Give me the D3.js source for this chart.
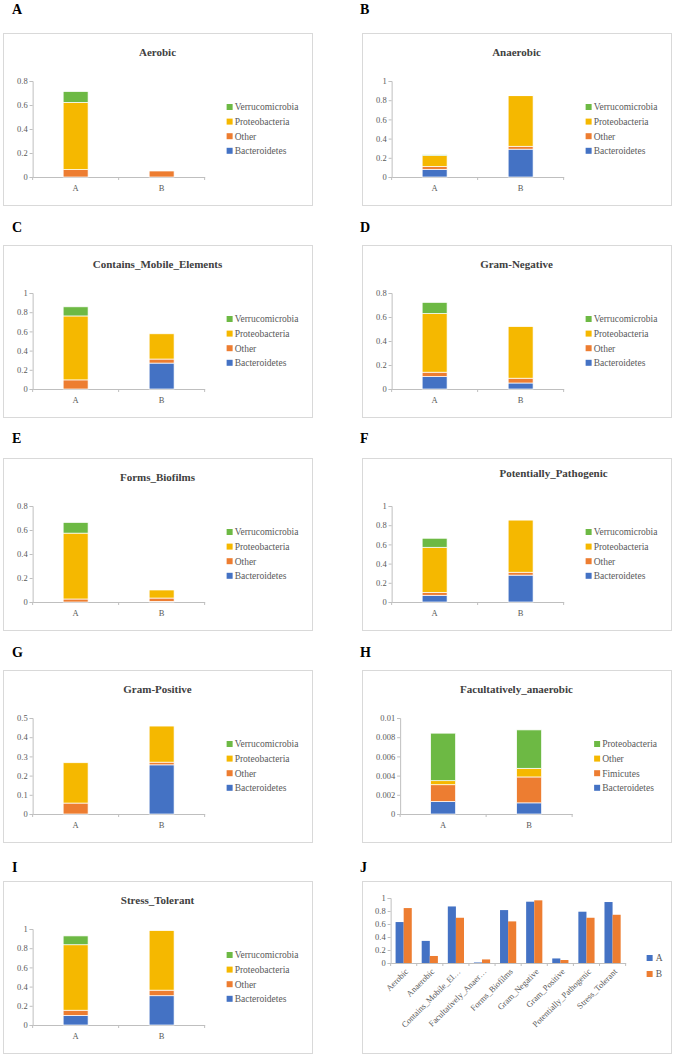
<!DOCTYPE html>
<html>
<head>
<meta charset="utf-8">
<script src="https://cdn.jsdelivr.net/npm/d3@7"></script>
<style>
  body { margin: 0; background: #fff; }
  text { font-family: "Liberation Serif", "Times New Roman", serif; }
</style>
</head>
<body>
<div id="fig"></div>
<script>
// ---- data ----
const groups = ["A", "B"];
const phyla = ["Bacteroidetes", "Other", "Proteobacteria", "Verrucomicrobia"];
const phylaFacultative = ["Bacteroidetes", "Fimicutes", "Other", "Proteobacteria"];
const phylumColors = ["#4472C4", "#ED7D31", "#F5B800", "#6DB944"];

// stacked values for each group, same order as the phyla list
const aerobicA = [0, 0.062, 0.56, 0.09];
const aerobicB = [0, 0.05, 0, 0];
const anaerobicA = [0.08, 0.03, 0.113, 0.008];
const anaerobicB = [0.29, 0.03, 0.527, 0.005];
const mobileA = [0, 0.095, 0.666, 0.095];
const mobileB = [0.27, 0.042, 0.263, 0];
const gramNegA = [0.104, 0.036, 0.489, 0.093];
const gramNegB = [0.05, 0.04, 0.43, 0];
const biofilmsA = [0, 0.025, 0.549, 0.089];
const biofilmsB = [0.005, 0.028, 0.067, 0];
const pathogenicA = [0.07, 0.03, 0.47, 0.094];
const pathogenicB = [0.28, 0.03, 0.543, 0];
const gramPosA = [0, 0.057, 0.21, 0];
const gramPosB = [0.256, 0.014, 0.188, 0];
const facultativeA = [0.0013, 0.00175, 0.00042, 0.00495];
const facultativeB = [0.00116, 0.0027, 0.0009, 0.004];
const stressA = [0.1, 0.054, 0.682, 0.092];
const stressB = [0.305, 0.058, 0.62, 0];

const ticks05 = [0, 0.1, 0.2, 0.3, 0.4, 0.5];
const ticks08 = [0, 0.2, 0.4, 0.6, 0.8];
const ticks1 = [0, 0.2, 0.4, 0.6, 0.8, 1];
const ticks001 = [0, 0.002, 0.004, 0.006, 0.008, 0.01];

// panel J
const traits = ["Aerobic", "Anaerobic", "Contains_Mobile_El…", "Facultatively_Anaer…", "Forms_Biofilms",
  "Gram_Negative", "Gram_Positive", "Potentially_Pathogenic", "Stress_Tolerant"];
const traitA = [0.63, 0.34, 0.87, 0.008, 0.814, 0.943, 0.07, 0.789, 0.938];
const traitB = [0.845, 0.108, 0.696, 0.055, 0.64, 0.964, 0.046, 0.696, 0.742];
const groupColors = ["#4472C4", "#ED7D31"];

// ---- layout ----
const width = 677, height = 1056;
const colX = [3, 362], rowY = [33, 245, 458, 670, 881];
const letterX = [12, 360], letterY = [14, 232, 443, 657, 872];
const frameW = 309, frameH = 172;
const axisColor = "#bfbfbf", labelColor = "#595959";
const fmt = d3.format("~g");

const panels = [
  { letter: "A", title: "Aerobic", a: aerobicA, b: aerobicB, keys: phyla, ticks: ticks08, col: 0, row: 0 },
  { letter: "B", title: "Anaerobic", a: anaerobicA, b: anaerobicB, keys: phyla, ticks: ticks1, col: 1, row: 0 },
  { letter: "C", title: "Contains_Mobile_Elements", a: mobileA, b: mobileB, keys: phyla, ticks: ticks1, col: 0, row: 1 },
  { letter: "D", title: "Gram-Negative", a: gramNegA, b: gramNegB, keys: phyla, ticks: ticks08, col: 1, row: 1 },
  { letter: "E", title: "Forms_Biofilms", a: biofilmsA, b: biofilmsB, keys: phyla, ticks: ticks08, col: 0, row: 2 },
  { letter: "F", title: "Potentially_Pathogenic", a: pathogenicA, b: pathogenicB, keys: phyla, ticks: ticks1, col: 1, row: 2, titleDx: 37, titleDy: -4 },
  { letter: "G", title: "Gram-Positive", a: gramPosA, b: gramPosB, keys: phyla, ticks: ticks05, col: 0, row: 3 },
  { letter: "H", title: "Facultatively_anaerobic", a: facultativeA, b: facultativeB, keys: phylaFacultative, ticks: ticks001, col: 1, row: 3 },
  { letter: "I", title: "Stress_Tolerant", a: stressA, b: stressB, keys: phyla, ticks: ticks1, col: 0, row: 4 }
];

const svg = d3.select("#fig").append("svg")
  .attr("width", width).attr("height", height)
  .attr("viewBox", [0, 0, width, height]);

function textWidth(str, size) {
  const t = svg.append("text").style("font-size", size).text(str);
  const w = t.node().getComputedTextLength();
  t.remove();
  return w;
}

function styleAxis(sel) {
  sel.select(".domain").attr("stroke", axisColor);
  sel.selectAll(".tick line").attr("stroke", axisColor);
  sel.selectAll(".tick text").attr("fill", labelColor)
    .style("font-size", "8.5px")
    .style("font-family", "'Liberation Serif', serif");
}

function drawLetter(p) {
  svg.append("text")
    .attr("x", letterX[p.col]).attr("y", letterY[p.row])
    .style("font-size", "14px").style("font-weight", "bold")
    .attr("fill", "#000")
    .text(p.letter);
}

function drawFrame(g) {
  g.append("rect")
    .attr("x", 0.5).attr("y", 0.5)
    .attr("width", frameW).attr("height", frameH)
    .attr("fill", "#fff").attr("stroke", "#d9d9d9");
}

function drawStacked(p) {
  drawLetter(p);
  const g = svg.append("g").attr("transform", `translate(${colX[p.col]},${rowY[p.row]})`);
  drawFrame(g);

  g.append("text")
    .attr("x", frameW / 2 + (p.titleDx || 0))
    .attr("y", 23 + (p.titleDy || 0))
    .attr("text-anchor", "middle")
    .attr("fill", "#404040")
    .style("font-size", "11px").style("font-weight", "bold")
    .text(p.title);

  const maxW = d3.max(p.ticks, t => textWidth(fmt(t), "8.5px"));
  const left = 14 + maxW + 5, right = left + 172;

  const y = d3.scaleLinear().domain([0, d3.max(p.ticks)]).range([144, 48]);
  const x = d3.scaleBand().domain(groups).range([left, right])
    .paddingInner(0.71).paddingOuter(0.355);

  const rows = groups.map((grp, i) => {
    const vals = i === 0 ? p.a : p.b;
    const o = { group: grp };
    p.keys.forEach((k, j) => o[k] = vals[j]);
    return o;
  });
  const series = d3.stack().keys(p.keys)(rows);
  const color = d3.scaleOrdinal().domain(p.keys).range(phylumColors);

  g.append("g")
    .attr("transform", `translate(${left},0)`)
    .call(d3.axisLeft(y).tickValues(p.ticks).tickFormat(fmt).tickSize(3).tickPadding(2))
    .call(styleAxis);

  const xa = g.append("g")
    .attr("transform", `translate(0,${y(0)})`)
    .call(d3.axisBottom(x).tickSize(0).tickPadding(8).tickSizeOuter(0))
    .call(styleAxis);
  // category boundary ticks
  xa.selectAll(".bound")
    .data(d3.range(groups.length + 1))
    .join("line")
    .attr("x1", i => left + i * x.step()).attr("x2", i => left + i * x.step())
    .attr("y1", 0).attr("y2", 3)
    .attr("stroke", axisColor);

  g.append("g").selectAll("g")
    .data(series)
    .join("g")
    .attr("fill", d => color(d.key))
    .selectAll("rect")
    .data(d => d.filter(s => s[1] - s[0] > 0))
    .join("rect")
    .attr("x", d => x(d.data.group))
    .attr("width", x.bandwidth())
    .attr("y", d => y(d[1]))
    .attr("height", d => y(d[0]) - y(d[1]))
    .attr("stroke", "#fff").attr("stroke-width", 0.7);

  const legend = g.append("g").attr("transform", `translate(${right + 22},0)`);
  const legendKeys = p.keys.slice().reverse();
  legend.selectAll("rect")
    .data(legendKeys)
    .join("rect")
    .attr("x", 0).attr("y", (d, i) => 74 + i * 14.6 - 3)
    .attr("width", 6).attr("height", 6)
    .attr("fill", d => color(d));
  legend.selectAll("text")
    .data(legendKeys)
    .join("text")
    .attr("x", 8).attr("y", (d, i) => 74 + i * 14.6)
    .attr("dy", "0.35em")
    .attr("fill", labelColor)
    .style("font-size", "9.5px")
    .text(d => d);
}

panels.forEach(drawStacked);

// ---- panel J: grouped bars ----
(function drawGrouped() {
  const p = { letter: "J", col: 1, row: 4 };
  drawLetter(p);
  const g = svg.append("g").attr("transform", `translate(${colX[1]},${rowY[4]})`);
  drawFrame(g);

  const maxW = d3.max(ticks1, t => textWidth(fmt(t), "8.5px"));
  const left = 14 + maxW + 4, right = left + 235;

  const y = d3.scaleLinear().domain([0, 1]).range([82, 17]);
  const x0 = d3.scaleBand().domain(traits).range([left, right])
    .paddingInner(0.38).paddingOuter(0.19);
  const x1 = d3.scaleBand().domain(groups).range([0, x0.bandwidth()]);
  const color = d3.scaleOrdinal().domain(groups).range(groupColors);

  g.append("g")
    .attr("transform", `translate(${left},0)`)
    .call(d3.axisLeft(y).tickValues(ticks1).tickFormat(fmt).tickSize(3).tickPadding(2))
    .call(styleAxis);

  const xa = g.append("g")
    .attr("transform", `translate(0,${y(0)})`)
    .call(d3.axisBottom(x0).tickSize(0).tickFormat(""))
    .call(styleAxis);
  xa.selectAll(".bound")
    .data(d3.range(traits.length + 1))
    .join("line")
    .attr("x1", i => left + i * x0.step()).attr("x2", i => left + i * x0.step())
    .attr("y1", 0).attr("y2", 3)
    .attr("stroke", axisColor);

  g.append("g").selectAll("text")
    .data(traits)
    .join("text")
    .attr("transform", d => `translate(${x0(d) + x0.bandwidth() / 2 + 3},${y(0) + 7}) rotate(-45)`)
    .attr("text-anchor", "end")
    .attr("dy", "0.35em")
    .attr("fill", labelColor)
    .style("font-size", "8.5px")
    .text(d => d);

  const rows = traits.map((t, i) => ({ trait: t, A: traitA[i], B: traitB[i] }));
  g.append("g").selectAll("g")
    .data(rows)
    .join("g")
    .attr("transform", d => `translate(${x0(d.trait)},0)`)
    .selectAll("rect")
    .data(d => groups.map(k => ({ key: k, value: d[k] })))
    .join("rect")
    .attr("x", d => x1(d.key))
    .attr("width", x1.bandwidth())
    .attr("y", d => y(d.value))
    .attr("height", d => y(0) - y(d.value))
    .attr("fill", d => color(d.key));

  const legend = g.append("g").attr("transform", `translate(${right + 21},0)`);
  legend.selectAll("rect")
    .data(groups)
    .join("rect")
    .attr("x", 0).attr("y", (d, i) => 77 + i * 16 - 3)
    .attr("width", 6).attr("height", 6)
    .attr("fill", d => color(d));
  legend.selectAll("text")
    .data(groups)
    .join("text")
    .attr("x", 9).attr("y", (d, i) => 77 + i * 16)
    .attr("dy", "0.35em")
    .attr("fill", labelColor)
    .style("font-size", "9.5px")
    .text(d => d);
})();
</script>
</body>
</html>
